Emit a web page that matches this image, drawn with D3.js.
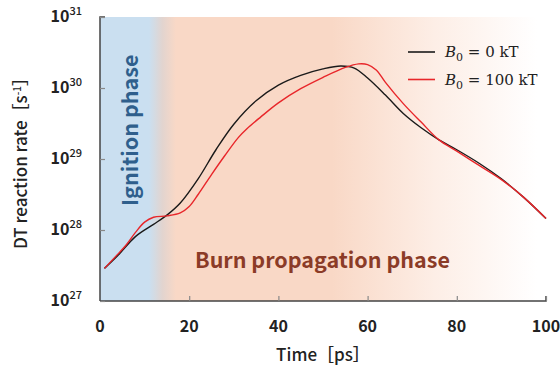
<!DOCTYPE html>
<html>
<head>
    <meta charset="utf-8">
    <style>
        body {
            margin: 0;
            background: #fff;
        }
        svg {
            display: block;
        }
        text {
            font-family: "Noto Sans CJK JP", "Noto Sans", sans-serif;
            fill: #222;
        }
        .tick-label {
            font-size: 16px;
            font-weight: bold;
        }
        .axis-title {
            font-size: 17px;
            font-weight: 500;
        }
        .phase {
            font-size: 21.5px;
            font-weight: bold;
        }
        .legend text {
            font-family: "DejaVu Serif", "Liberation Serif", serif;
            font-size: 15px;
        }
    </style>
</head>
<body>
    <svg width="560" height="367"></svg>

<script src="https://d3js.org/d3.v7.min.js"></script>
<script>
    // time in ps
    let timeB0 = [1, 4, 8, 12, 15, 18, 22, 26, 30, 35, 40, 45, 50, 54, 57, 60, 64, 68, 72, 76, 80, 85, 90, 95, 100]
    // DT reaction rate [1/s], B0 = 0 kT
    let rateB0 = [2.88e27, 4.37e27, 8.13e27, 1.2e28, 1.62e28, 2.4e28, 5.25e28, 1.35e29, 3.09e29, 6.61e29,
        1.1e30, 1.51e30, 1.86e30, 2.04e30, 1.91e30, 1.38e30, 7.94e29, 4.37e29, 2.75e29, 1.86e29,
        1.35e29, 8.71e28, 5.25e28, 2.88e28, 1.45e28]

    let timeB100 = [1, 4, 6, 8, 10, 12, 15, 18, 20, 22, 25, 28, 31, 33, 36, 40, 45, 50, 55, 58, 60, 62, 64, 68, 72, 76, 80, 85, 90, 95, 100]
    // B0 = 100 kT
    let rateB100 = [2.88e27, 4.57e27, 6.31e27, 9.33e27, 1.29e28, 1.51e28, 1.58e28, 1.74e28, 2.14e28, 3.16e28,
        6.03e28, 1.12e29, 2.0e29, 2.69e29, 3.89e29, 6.17e29, 9.77e29, 1.41e30, 1.95e30, 2.19e30,
        2.14e30, 1.78e30, 1.2e30, 6.03e29, 3.31e29, 1.86e29, 1.29e29, 8.13e28, 5.13e28, 2.88e28, 1.45e28]

    let xTicks = [0, 20, 40, 60, 80, 100]
    let yExponents = [27, 28, 29, 30, 31]

    let seriesNames = ["0", "100"]
    let seriesColors = ["#1a1a1a", "#e8262a"]

    let svg = d3.select("svg")

    let x = d3.scaleLinear()
        .domain([0, 100])
        .range([100, 546])

    let y = d3.scaleLog()
        .domain([1e27, 1e31])
        .range([301, 17])

    // background gradient: ignition (blue) -> burn propagation (salmon) -> white
    let defs = svg.append("defs")
    let grad = defs.append("linearGradient")
        .attr("id", "phaseGrad")
        .attr("gradientUnits", "userSpaceOnUse")
        .attr("x1", x(0)).attr("x2", x(100))
        .attr("y1", 0).attr("y2", 0)

    let stops = [
        [0, "#cadff0"],
        [11, "#cadff0"],
        [14, "#e2d4cf"],
        [17, "#f9d8c6"],
        [52, "#f9d8c6"],
        [75, "#fdeee6"],
        [98, "#ffffff"]
    ]
    grad.selectAll("stop")
        .data(stops)
        .join("stop")
        .attr("offset", d => d[0] + "%")
        .attr("stop-color", d => d[1])

    svg.append("rect")
        .attr("x", x(0))
        .attr("y", y(1e31))
        .attr("width", x(100) - x(0))
        .attr("height", y(1e27) - y(1e31))
        .attr("fill", "url(#phaseGrad)")

    // phase labels
    svg.append("text")
        .attr("class", "phase")
        .attr("transform", `translate(${x(8.6)},${y(1e29) + 47}) rotate(-90)`)
        .style("fill", "#2f5f8c")
        .text("Ignition phase")

    svg.append("text")
        .attr("class", "phase")
        .attr("x", x(21.3))
        .attr("y", 268)
        .style("fill", "#8b3b27")
        .text("Burn propagation phase")

    // axes
    let xAxis = svg.append("g")
        .attr("class", "x axis")
        .attr("transform", `translate(0,${y(1e27)})`)
        .call(d3.axisBottom(x).tickValues(xTicks).tickSize(-5).tickFormat(""))
    xAxis.selectAll(".tick line").attr("stroke", "#888").attr("stroke-width", 1.2)
    xAxis.selectAll(".tick").filter(d => d == 0).remove()
    xAxis.select(".domain").attr("stroke", "#444").attr("stroke-width", 1.5)
        .attr("d", `M${x(0)},0H${x(100)}V-5`)

    let yAxis = svg.append("g")
        .attr("class", "y axis")
        .attr("transform", `translate(${x(0)},0)`)
        .call(d3.axisLeft(y).tickValues(yExponents.map(e => Math.pow(10, e))).tickSize(-5).tickFormat(""))
    yAxis.selectAll(".tick line").attr("stroke", "#888").attr("stroke-width", 1.2)
    yAxis.select(".domain").attr("stroke", "#444").attr("stroke-width", 1.5)
        .attr("d", `M5,${y(1e31)}H0V${y(1e27)}`)

    // tick labels
    svg.selectAll(".xlab")
        .data(xTicks)
        .join("text")
        .attr("class", "tick-label xlab")
        .attr("x", d => x(d))
        .attr("y", 332)
        .attr("text-anchor", "middle")
        .text(d => d)

    let ylab = svg.selectAll(".ylab")
        .data(yExponents)
        .join("text")
        .attr("class", "tick-label ylab")
        .attr("x", 82)
        .attr("y", d => y(Math.pow(10, d)) + 5)
        .attr("text-anchor", "end")
    ylab.append("tspan").text("10")
    ylab.append("tspan")
        .attr("dy", -7)
        .style("font-size", "11px")
        .style("font-weight", "500")
        .text(d => d)

    // axis titles
    svg.append("text")
        .attr("class", "axis-title")
        .attr("x", (x(0) + x(100)) / 2)
        .attr("y", 361)
        .attr("text-anchor", "middle")
        .text("Time［ps］")

    let yt = svg.append("text")
        .attr("class", "axis-title")
        .attr("transform", `translate(27,${(y(1e27) + y(1e31)) / 2}) rotate(-90)`)
        .attr("text-anchor", "middle")
    yt.append("tspan").text("DT reaction rate［s")
    yt.append("tspan").attr("dy", -6).style("font-size", "10px").text("-1")
    yt.append("tspan").attr("dy", 6).text("］")

    // curves
    let line = d3.line()
        .x(d => x(d[0]))
        .y(d => y(d[1]))
        .curve(d3.curveCatmullRom.alpha(0.5))

    let series = [
        d3.zip(timeB0, rateB0),
        d3.zip(timeB100, rateB100)
    ]

    svg.append("g")
        .selectAll("path")
        .data(series)
        .join("path")
        .attr("fill", "none")
        .attr("stroke", (d, i) => seriesColors[i])
        .attr("stroke-width", 1.4)
        .attr("d", line)

    // legend
    let legend = svg.append("g")
        .attr("class", "legend")
        .selectAll("g")
        .data(seriesNames)
        .join("g")
        .attr("transform", (d, i) => `translate(408,${52 + i * 27.5})`)

    legend.append("line")
        .attr("x1", 0).attr("x2", 27)
        .attr("stroke", (d, i) => seriesColors[i])
        .attr("stroke-width", 1.6)

    let lt = legend.append("text")
        .attr("x", 37)
        .attr("y", 5)
    lt.append("tspan").style("font-style", "italic").text("B")
    lt.append("tspan").attr("dy", 4).style("font-size", "11px").text("0")
    lt.append("tspan").attr("dy", -4).text(d => " = " + d + " kT")
</script>
</body>
</html>
